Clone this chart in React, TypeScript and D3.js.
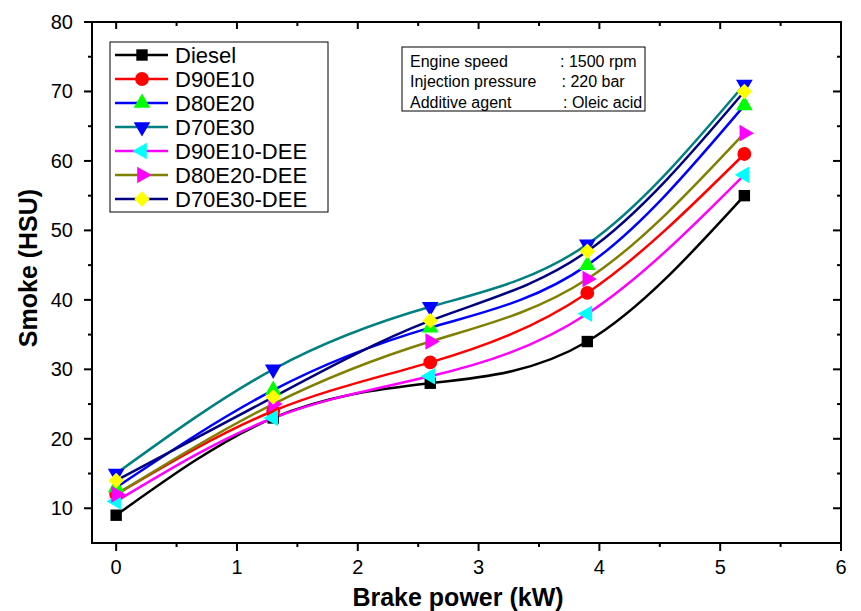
import React from 'react';
import * as d3 from 'd3';

const brakePower = [0, 1.3, 2.6, 3.9, 5.2];
const diesel = [9, 23, 28, 34, 55];
const d90e10 = [12, 24, 31, 41, 61];
const d80e20 = [13, 27, 36, 45, 68];
const d70e30 = [15, 30, 39, 48, 71];
const d90e10Dee = [11, 23, 29, 38, 58];
const d80e20Dee = [12, 25, 34, 43, 64];
const d70e30Dee = [14, 26, 37, 47, 70];

const xTicks = [0, 1, 2, 3, 4, 5, 6];
const yTicks = [10, 20, 30, 40, 50, 60, 70, 80];
const infoLabels = ['Engine speed', 'Injection pressure', 'Additive agent'];
const infoValues = [': 1500 rpm', ': 220 bar', ': Oleic acid'];

const series = [
  { name: 'Diesel', values: diesel, line: '#000000', fill: '#000000', shape: 'square', rot: 0 },
  { name: 'D90E10', values: d90e10, line: '#ff0000', fill: '#ff0000', shape: 'circle', rot: 0 },
  { name: 'D80E20', values: d80e20, line: '#0000ff', fill: '#00ff00', shape: 'triangle', rot: 0 },
  { name: 'D70E30', values: d70e30, line: '#008080', fill: '#0000ff', shape: 'triangle', rot: 180 },
  { name: 'D90E10-DEE', values: d90e10Dee, line: '#ff00ff', fill: '#00ffff', shape: 'triangle', rot: -90 },
  { name: 'D80E20-DEE', values: d80e20Dee, line: '#808000', fill: '#ff00ff', shape: 'triangle', rot: 90 },
  { name: 'D70E30-DEE', values: d70e30Dee, line: '#000080', fill: '#ffff00', shape: 'diamond', rot: 45 },
];

const W = 861;
const H = 611;
const m = { left: 92, right: 841, top: 22, bottom: 543 };
const font = 'Liberation Sans, Arial, sans-serif';

function markerPath(shape: string) {
  if (shape === 'square') return d3.symbol(d3.symbolSquare, 130)()!;
  if (shape === 'circle') return d3.symbol(d3.symbolCircle, 150)()!;
  if (shape === 'diamond') return d3.symbol(d3.symbolSquare, 120)()!;
  return d3.symbol(d3.symbolTriangle, 120)()!;
}

function Marker({ s, x, y }: { s: any; x: number; y: number }) {
  return (
    <path
      d={markerPath(s.shape)}
      transform={`translate(${x},${y}) rotate(${s.rot})`}
      fill={s.fill}
    />
  );
}

export default function App() {
  const x = d3.scaleLinear().domain([-0.2, 6]).range([m.left, m.right]);
  const y = d3.scaleLinear().domain([5, 80]).range([m.bottom, m.top]);

  const line = d3
    .line<number>()
    .x((_, i) => x(brakePower[i]))
    .y((d) => y(d))
    .curve(d3.curveNatural);

  const xMinor = d3.range(0.5, 6, 1);
  const yMinor = d3.range(15, 80, 10);

  return (
    <svg width={W} height={H} style={{ position: 'absolute', left: 0, top: 0 }}>
      <rect width={W} height={H} fill="#fff" />

      {/* lines then markers */}
      {series.map((s) => (
        <path key={s.name} d={line(s.values)!} fill="none" stroke={s.line} strokeWidth={2.5} />
      ))}
      {series.map((s) =>
        s.values.map((v, i) => <Marker key={s.name + i} s={s} x={x(brakePower[i])} y={y(v)} />)
      )}

      {/* frame */}
      <rect
        x={m.left}
        y={m.top}
        width={m.right - m.left}
        height={m.bottom - m.top}
        fill="none"
        stroke="#000"
        strokeWidth={2}
      />

      {/* x ticks: outward bottom, inward top */}
      {xTicks.map((t) => (
        <g key={'x' + t}>
          <line x1={x(t)} x2={x(t)} y1={m.bottom} y2={m.bottom + 8} stroke="#000" strokeWidth={2} />
          <line x1={x(t)} x2={x(t)} y1={m.top} y2={m.top + 7} stroke="#000" strokeWidth={2} />
          <text x={x(t)} y={m.bottom + 31} textAnchor="middle" fontSize={20} fontFamily={font}>
            {t}
          </text>
        </g>
      ))}
      {xMinor.map((t) => (
        <g key={'xm' + t}>
          <line x1={x(t)} x2={x(t)} y1={m.bottom} y2={m.bottom + 4} stroke="#000" strokeWidth={2} />
          <line x1={x(t)} x2={x(t)} y1={m.top} y2={m.top + 4} stroke="#000" strokeWidth={2} />
        </g>
      ))}

      {/* y ticks: outward left, inward right */}
      {yTicks.map((t) => (
        <g key={'y' + t}>
          <line x1={m.left - 8} x2={m.left} y1={y(t)} y2={y(t)} stroke="#000" strokeWidth={2} />
          <line x1={m.right - 8} x2={m.right} y1={y(t)} y2={y(t)} stroke="#000" strokeWidth={2} />
          <text
            x={m.left - 19}
            y={y(t)}
            dy="0.35em"
            textAnchor="end"
            fontSize={20}
            fontFamily={font}
          >
            {t}
          </text>
        </g>
      ))}
      {yMinor.map((t) => (
        <g key={'ym' + t}>
          <line x1={m.left - 4} x2={m.left} y1={y(t)} y2={y(t)} stroke="#000" strokeWidth={2} />
          <line x1={m.right - 4} x2={m.right} y1={y(t)} y2={y(t)} stroke="#000" strokeWidth={2} />
        </g>
      ))}

      {/* axis titles */}
      <text
        x={458}
        y={606}
        textAnchor="middle"
        fontSize={25}
        fontWeight="bold"
        fontFamily={font}
      >
        Brake power (kW)
      </text>
      <text
        transform={`translate(37,${268}) rotate(-90)`}
        textAnchor="middle"
        fontSize={25}
        fontWeight="bold"
        fontFamily={font}
      >
        Smoke (HSU)
      </text>

      {/* legend */}
      <rect x={110} y={42} width={218} height={170} fill="#fff" stroke="#000" strokeWidth={1} />
      {series.map((s, i) => {
        const ly = 55 + i * 24;
        return (
          <g key={'lg' + s.name}>
            <line x1={115} x2={168} y1={ly} y2={ly} stroke={s.line} strokeWidth={2.5} />
            <Marker s={s} x={142} y={ly} />
            <text x={175} y={ly} dy="0.35em" fontSize={22} fontFamily={font}>
              {s.name}
            </text>
          </g>
        );
      })}

      {/* conditions box */}
      <rect x={402} y={47} width={243} height={64} fill="#fff" stroke="#000" strokeWidth={1} />
      {infoLabels.map((lab, i) => (
        <g key={'info' + i}>
          <text x={410} y={61 + i * 20.5} dy="0.35em" fontSize={16} fontFamily={font}>
            {lab}
          </text>
          <text x={560 + i * 1.5} y={61 + i * 20.5} dy="0.35em" fontSize={16} fontFamily={font}>
            {infoValues[i]}
          </text>
        </g>
      ))}
    </svg>
  );
}
